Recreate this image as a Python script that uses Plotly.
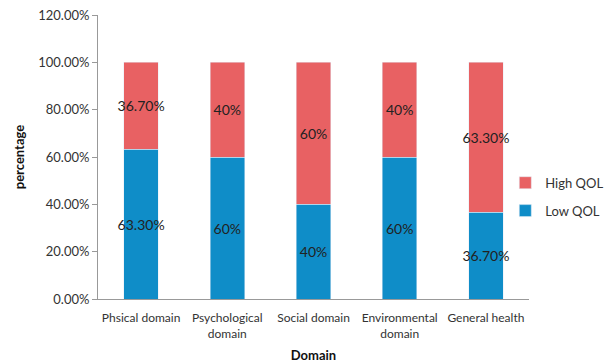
import plotly.graph_objects as go

categories = ["Phsical domain", "Psychological<br>domain", "Social domain", "Environmental<br>domain", "General health"]
low_qol = [63.3, 60, 40, 60, 36.7]
high_qol = [36.7, 40, 60, 40, 63.3]
low_text = ["63.30%", "60%", "40%", "60%", "36.70%"]
high_text = ["36.70%", "40%", "60%", "40%", "63.30%"]
y_ticks = [0, 20, 40, 60, 80, 100, 120]
y_tick_labels = ["0.00%", "20.00%", "40.00%", "60.00%", "80.00%", "100.00%", "120.00%"]

fig = go.Figure()
fig.add_trace(go.Bar(x=categories, y=low_qol, name="Low QOL", text=low_text,
                     textposition="inside", insidetextanchor="middle", textangle=0,
                     constraintext="none", legendgroup="low", legendrank=2,
                     marker=dict(color="#0F8DC8"), textfont=dict(color="#222222", size=14)))
fig.add_trace(go.Bar(x=categories, y=high_qol, name="High QOL", text=high_text,
                     textposition="inside", insidetextanchor="middle", textangle=0,
                     constraintext="none", legendgroup="high", legendrank=1,
                     marker=dict(color="#E86163"), textfont=dict(color="#222222", size=14)))

fig.update_layout(
    barmode="stack",
    bargap=0.6,
    width=607, height=364,
    margin=dict(l=98, r=78, t=15, b=65, autoexpand=False),
    paper_bgcolor="white", plot_bgcolor="white",
    font=dict(family="Lato, Open Sans, sans-serif", size=13, color="#333333"),
    uniformtext=dict(mode="show", minsize=14),
    legend=dict(x=0.945, y=0.36, xanchor="left", yanchor="middle", traceorder="grouped",
                font=dict(size=13, color="#333333"), itemwidth=30,
                tracegroupgap=8, bgcolor="rgba(0,0,0,0)"),
    showlegend=True,
)
fig.update_xaxes(showline=True, linecolor="#999999", linewidth=1, ticks="outside", tickangle=0,
                 ticklen=8, tickcolor="rgba(0,0,0,0)",
                 title=dict(text="<b>Domain</b>", font=dict(size=13, color="#111111"), standoff=10),
                 tickfont=dict(size=12, color="#333333"))
fig.update_yaxes(range=[0, 120], tickvals=y_ticks, ticktext=y_tick_labels,
                 showline=True, linecolor="#999999", linewidth=1, ticks="outside",
                 tickcolor="#999999", ticklen=5, showgrid=False, zeroline=False,
                 title=dict(text="<b>percentage</b>", font=dict(size=13, color="#111111"), standoff=10),
                 tickfont=dict(size=13, color="#333333"))

fig.write_html("out.html")
